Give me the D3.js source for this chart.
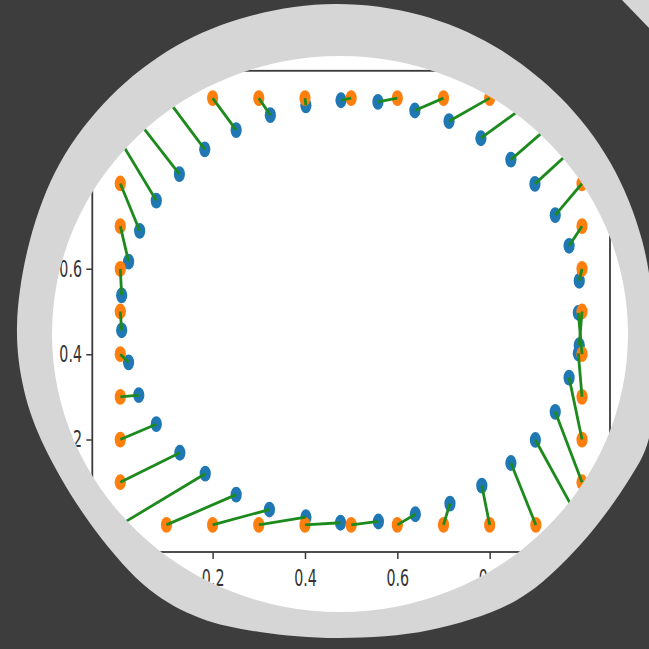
<!DOCTYPE html>
<html>
<head>
<meta charset="utf-8">
<script src="https://cdn.jsdelivr.net/npm/d3@7"></script>
<style>
html,body{margin:0;padding:0;background:#3d3d3d;}
svg{display:block;}
</style>
</head>
<body>
<svg id="chart" width="649" height="649"></svg>
<script>
// ---- data ----
const orangeX = [0.0,0.1,0.2,0.3,0.4,0.5,0.6,0.7,0.8,0.9, 1,1,1,1,1,1,1,1,1,1, 1.0,0.9,0.8,0.7,0.6,0.5,0.4,0.3,0.2,0.1, 0,0,0,0,0,0,0,0,0,0];
const orangeY = [0,0,0,0,0,0,0,0,0,0, 0.0,0.1,0.2,0.3,0.4,0.5,0.6,0.7,0.8,0.9, 1,1,1,1,1,1,1,1,1,1, 1.0,0.9,0.8,0.7,0.6,0.5,0.4,0.3,0.2,0.1];
const blueX = [0.184,0.251,0.323,0.402,0.477,0.559,0.639,0.714,0.783,0.846,
               0.899,0.942,0.972,0.992,0.992,0.994,0.994,0.972,0.942,0.898,
               0.846,0.781,0.712,0.638,0.558,0.478,0.402,0.325,0.251,0.183,
               0.128,0.078,0.042,0.018,0.003,0.003,0.018,0.040,0.078,0.129];
const blueY = [0.120,0.071,0.036,0.018,0.005,0.008,0.025,0.050,0.092,0.145,
               0.199,0.265,0.345,0.402,0.497,0.421,0.572,0.654,0.726,0.799,
               0.856,0.906,0.946,0.971,0.991,0.995,0.983,0.960,0.925,0.880,
               0.822,0.760,0.689,0.617,0.538,0.456,0.381,0.304,0.236,0.169];
const xTicks = [0.0,0.2,0.4,0.6,0.8,1.0];
const yTicks = [0.0,0.2,0.4,0.6,0.8,1.0];

// ---- frame (magnifier) ----
const svg = d3.select("#chart");
const W = 649, H = 649;
svg.append("rect").attr("width",W).attr("height",H).attr("fill","#3d3d3d");

// second lens edge in top-right corner
svg.append("path").attr("d","M622,0 L649,0 L649,28 Z").attr("fill","#d6d6d6");

const outerPts = [[17,326],[30,240],[60,163],[110,97],[176,46],[250,16],[335,4],[420,15],[494,46],[560,97],[610,162],[642,240],[655,330],[654,400],[647,445],[630,478],[581,544],[517,600],[430,630],[340,638],[260,632],[200,618],[150,590],[95,530],[45,448],[24,390]];
svg.append("path")
  .attr("d", d3.line().curve(d3.curveCatmullRomClosed.alpha(0.5))(outerPts))
  .attr("fill","#d6d6d6");

// inner lens (ellipse)
const lcx = 340, lcy = 334, la = 288, lb = 278;
svg.append("ellipse").attr("cx",lcx).attr("cy",lcy).attr("rx",la).attr("ry",lb).attr("fill","#ffffff");
svg.append("clipPath").attr("id","lens").append("ellipse")
  .attr("cx",lcx).attr("cy",lcy).attr("rx",la).attr("ry",lb);

const g = svg.append("g").attr("clip-path","url(#lens)");

// ---- scales ----
const x = d3.scaleLinear().domain([-0.0606, 1.0606]).range([92.3, 610]);
const y = d3.scaleLinear().domain([-0.0635, 1.064]).range([552, 70.8]);

// spines
g.append("rect")
  .attr("x", x.range()[0]).attr("y", y.range()[1])
  .attr("width", x.range()[1]-x.range()[0]).attr("height", y.range()[0]-y.range()[1])
  .attr("fill","none").attr("stroke","#3a3a3a").attr("stroke-width",1.8);

const fmt = d3.format(".1f");
const sx = 0.62;

const xAxis = g.append("g").attr("transform",`translate(0,${y.range()[0]})`)
  .call(d3.axisBottom(x).tickValues(xTicks).tickFormat(fmt).tickSize(7).tickSizeOuter(0).tickPadding(10.5));
const yAxis = g.append("g").attr("transform",`translate(${x.range()[0]},0)`)
  .call(d3.axisLeft(y).tickValues(yTicks).tickFormat(fmt).tickSize(6).tickSizeOuter(0).tickPadding(4));
[xAxis, yAxis].forEach(ax => {
  ax.select(".domain").remove();
  ax.selectAll(".tick line").attr("stroke","#3a3a3a").attr("stroke-width",1.5);
  ax.selectAll(".tick text")
    .attr("fill","#333")
    .style("font-family","'DejaVu Sans', sans-serif")
    .style("font-size","23px");
});
xAxis.selectAll(".tick text").attr("transform",`scale(${sx},1)`);
yAxis.selectAll(".tick text").attr("x", -10.3/sx).attr("transform",`scale(${sx},1)`);

// ---- marks ----
const idx = d3.range(orangeX.length);
const rx = 5.6, ry = 7.9;
g.append("g").selectAll("ellipse").data(idx).join("ellipse")
  .attr("cx", i => x(blueX[i])).attr("cy", i => y(blueY[i]))
  .attr("rx", rx).attr("ry", ry).attr("fill","#1f77b4");
g.append("g").selectAll("ellipse").data(idx).join("ellipse")
  .attr("cx", i => x(orangeX[i])).attr("cy", i => y(orangeY[i]))
  .attr("rx", rx).attr("ry", ry).attr("fill","#ff7f0e");
g.append("g").selectAll("line").data(idx).join("line")
  .attr("x1", i => x(orangeX[i])).attr("y1", i => y(orangeY[i]))
  .attr("x2", i => x(blueX[i])).attr("y2", i => y(blueY[i]))
  .attr("stroke","#1d8a1d").attr("stroke-width",2.8);
</script>
</body>
</html>
